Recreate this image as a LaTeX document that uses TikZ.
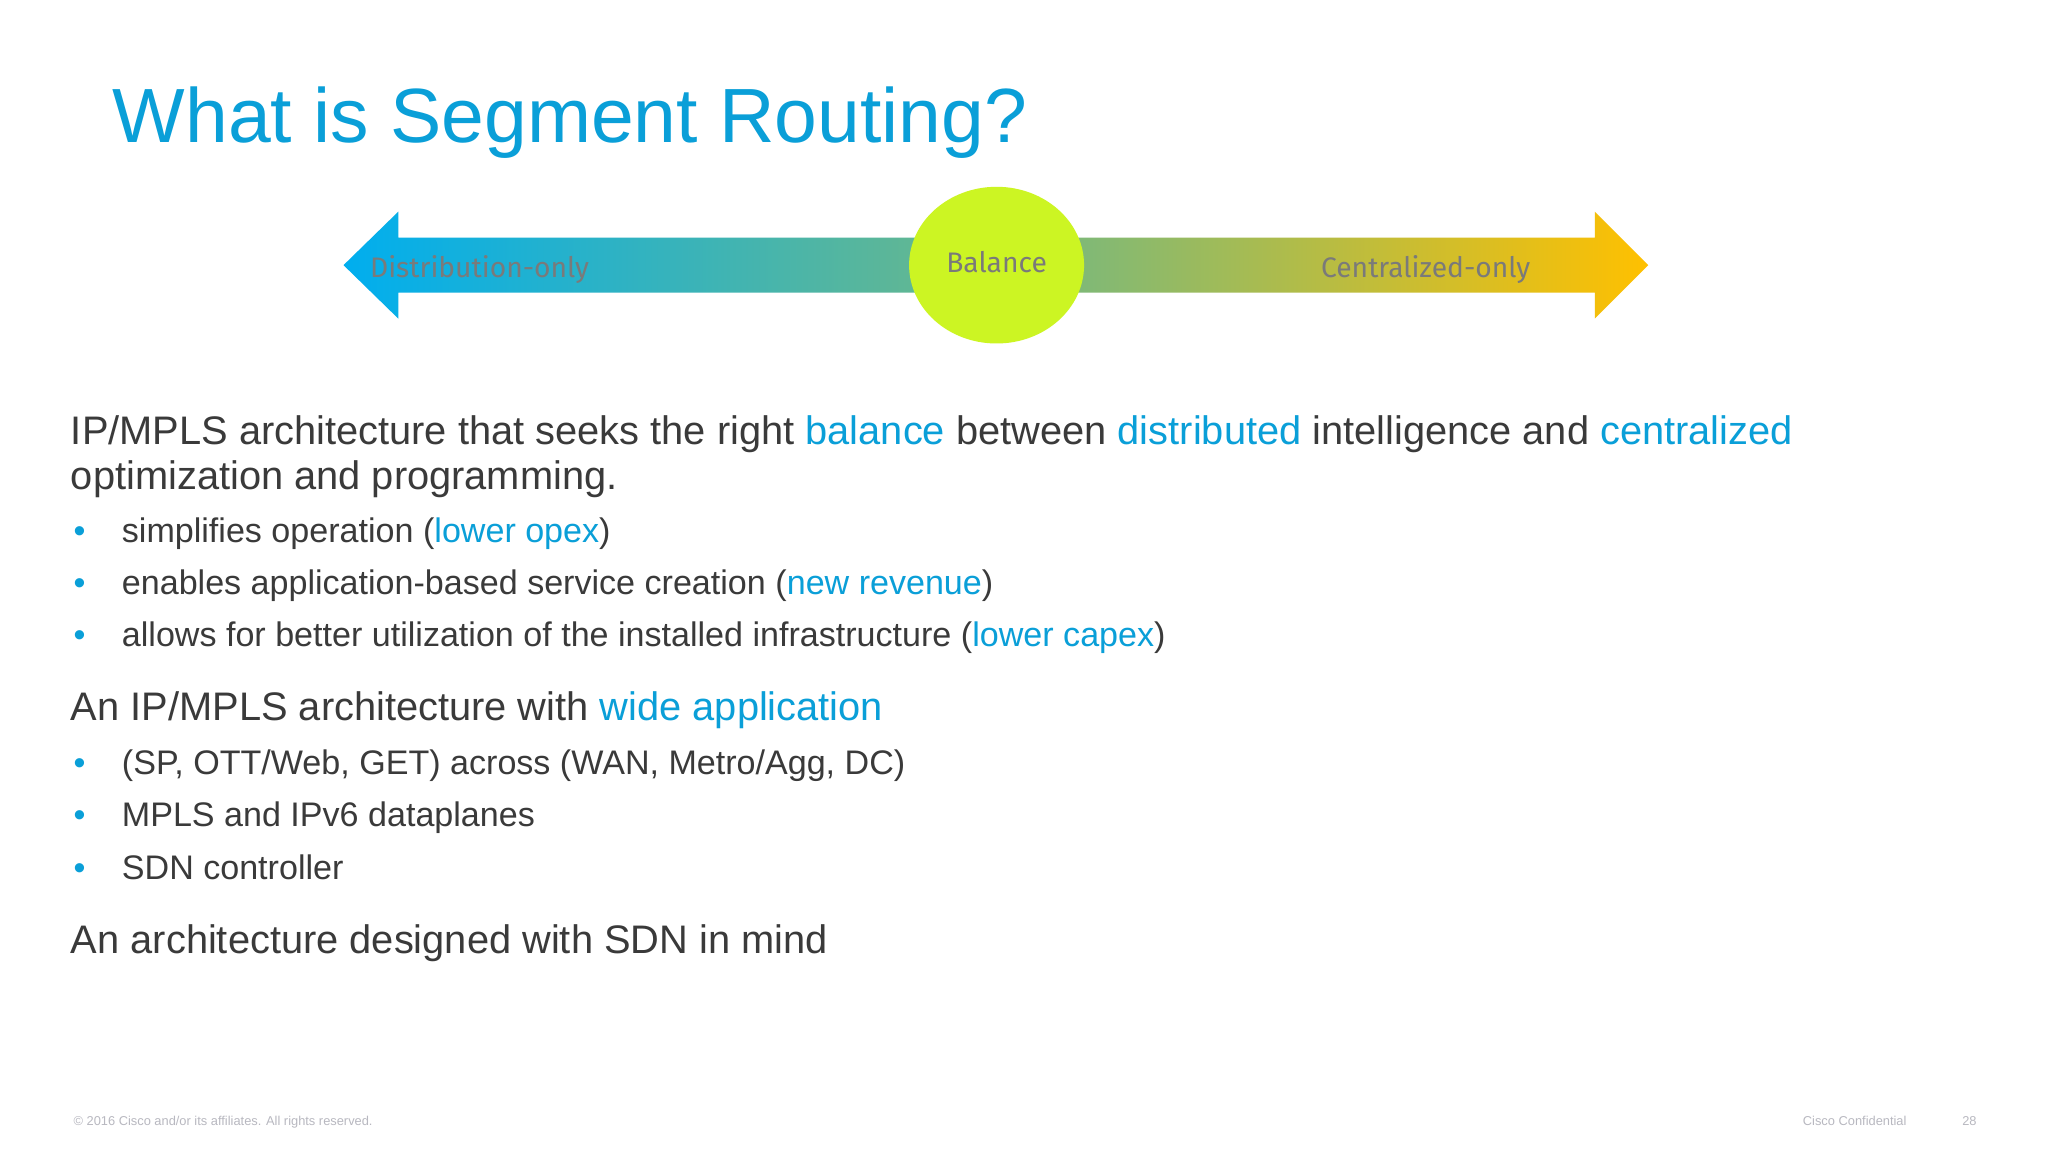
\documentclass[tikz,border=0pt]{standalone}
\usepackage{fontspec}
\usetikzlibrary{shapes.geometric}
\setmainfont{Liberation Sans}
\newfontfamily\lblfont{Fira Sans}
\definecolor{cblue}{HTML}{0A9FD8}
\definecolor{ctext}{HTML}{3A3A3A}
\definecolor{cgray}{HTML}{7A7A7A}
\definecolor{ball}{HTML}{CCF523}
\definecolor{acyan}{HTML}{00AEEF}
\definecolor{amid}{HTML}{6DB888}
\definecolor{aorange}{HTML}{FFC000}
\definecolor{foot}{HTML}{B8B8C0}
\tikzset{
 body/.style={anchor=base west,inner sep=0,text=ctext,font=\fontsize{17.35}{20}\selectfont},
 bul/.style={anchor=base west,inner sep=0,text=ctext,font=\fontsize{14.85}{17}\selectfont},
 dot/.style={anchor=base west,inner sep=0,text=cblue,font=\fontsize{14.8}{17}\selectfont},
 lbl/.style={inner sep=0,text=cgray,font=\lblfont\fontsize{12.3}{14}\selectfont},
 ft/.style={anchor=base west,inner sep=0,text=foot,font=\fontsize{5.6}{7}\selectfont}
}
\newcommand{\hl}[1]{\textcolor{cblue}{#1}}
\begin{document}
\begin{tikzpicture}[x=0.02cm,y=-0.02cm]
\useasboundingbox[fill=white] (0,0) rectangle (1568,882);
\node[anchor=base west,inner sep=0,text=cblue,font=\fontsize{33.5}{40}\selectfont] (title) at (86,109) {What is Segment Routing?};
\shade[left color=acyan,right color=aorange,middle color=amid]
 (263,203) -- (305,162) -- (305,182) -- (1221,182) -- (1221,162) -- (1262,203)
 -- (1221,244) -- (1221,224) -- (305,224) -- (305,244) -- cycle;
\node[ellipse,fill=ball,minimum width=2.68cm,minimum height=2.4cm,inner sep=0] (bal) at (763,203) {};
\node[lbl] (b) at (763,201) {Balance};
\node[lbl,anchor=west] (d) at (283,206) {Distribution-only};
\node[lbl,anchor=east] (c) at (1172,206) {Centralized-only};
\node[body] (p1) at (54,340) {IP/MPLS architecture that seeks the right \hl{balance} between \hl{distributed} intelligence and \hl{centralized}};
\node[body] (p2) at (54,375) {optimization and programming.};
\foreach \y/\t [count=\i] in {415/{simplifies operation (\hl{lower opex})},455/{enables application-based service creation (\hl{new revenue})},495/{allows for better utilization of the installed infrastructure (\hl{lower capex})},593/{(SP, OTT/Web, GET) across (WAN, Metro/Agg, DC)},633/{MPLS and IPv6 dataplanes},673/{SDN controller}}{
 \node[dot] (d\i) at (56,\y) {\textbullet};
 \node[bul] (t\i) at (93,\y) {\t};
}
\node[body] (p3) at (54,552) {An IP/MPLS architecture with \hl{wide application}};
\node[body] (p4) at (54,730) {An architecture designed with SDN in mind};
\node[ft] (f1) at (56,862) {\copyright\ 2016 Cisco and/or its affiliates. All rights reserved.};
\node[ft] (f2) at (1380,862) {Cisco Confidential};
\node[ft] (f3) at (1502,862) {28};
\end{tikzpicture}
\end{document}
